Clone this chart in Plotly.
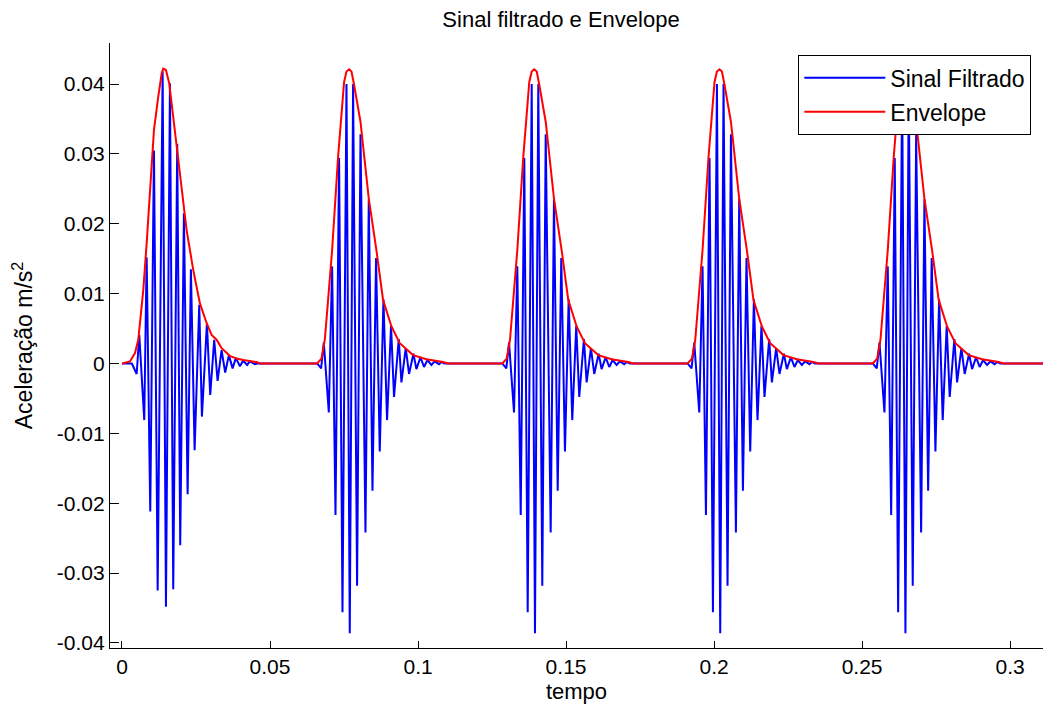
import plotly.graph_objects as go

# Start time of each burst (s)
burst_onsets = [0.00334, 0.06591, 0.12847, 0.19104, 0.25360]
t_end = 0.3125

# First burst: turning points of the filtered signal, offset from onset (ms)
sig1_ms = [0, 1.62, 2.50, 4.18, 4.99, 6.21, 7.46, 8.71, 10.39, 11.51, 12.86,
           13.97, 15.32, 16.33, 17.58, 18.83, 19.94, 21.19, 22.75, 23.66,
           25.34, 26.46, 27.81, 28.95, 30.30, 31.52, 32.77, 34.02, 35.13,
           36.48, 37.59, 38.94, 39.85, 41.54, 42.5]
sig1_val = [0, -0.0015, 0.0041, -0.0081, 0.0152, -0.0212, 0.0305, -0.0325,
            0.0418, -0.0348, 0.0401, -0.0323, 0.0314, -0.0260, 0.0215,
            -0.0187, 0.0135, -0.0124, 0.0084, -0.0076, 0.0057, -0.0045,
            0.0034, -0.0025, 0.0019, -0.0013, 0.0012, -0.0007, 0.0008,
            -0.0004, 0.0004, -0.0002, 0.0003, -0.0001, 0]

# Bursts 2-5: turning points of the filtered signal (ms from onset)
sig_ms = [0, 1.35, 2.26, 3.95, 5.06, 6.21, 7.42, 8.57, 9.92, 11.03, 12.15,
          13.50, 14.65, 16.33, 17.45, 18.70, 19.91, 21.16, 22.41, 23.62,
          24.97, 25.98, 27.57, 28.48, 29.93, 31.05, 32.53, 33.54, 34.89,
          36.11, 37.26, 38.61, 39.72, 41.17, 41.98, 43.09]
sig_val = [0, -0.0007, 0.0030, -0.0070, 0.0139, -0.0217, 0.0294, -0.0356,
           0.0400, -0.0386, 0.0400, -0.0318, 0.0328, -0.0242, 0.0235,
           -0.0182, 0.0151, -0.0126, 0.0092, -0.0081, 0.0054, -0.0048,
           0.0035, -0.0027, 0.0022, -0.0015, 0.0014, -0.0008, 0.0009,
           -0.0005, 0.0005, -0.0002, 0.0003, -0.0001, 0.0002, 0]

# Envelope of the first burst
env1_ms = [-3.10, -0.64, 1.05, 2.16, 3.85, 4.99, 6.68, 7.46, 8.91, 10.06,
           10.59, 11.51, 12.62, 15.12, 17.58, 18.49, 20.72, 22.98, 25.24,
           26.93, 28.61, 30.30, 33.09, 35.36, 37.59, 42.11, 43.22]
env1_val = [0, 0.0003, 0.0015, 0.0034, 0.0105, 0.0172, 0.0287, 0.0334,
            0.0382, 0.0415, 0.0422, 0.0420, 0.0401, 0.0315, 0.0224, 0.0191,
            0.0134, 0.0086, 0.0058, 0.0041, 0.0034, 0.0022, 0.0011, 0.0007,
            0.0005, 0.0002, 0]

# Envelope of bursts 2-5
env_ms = [0, 1.48, 2.60, 3.71, 5.06, 7.09, 9.11, 9.92, 10.80, 11.61, 12.39,
          14.65, 17.45, 20.04, 22.27, 25.11, 27.91, 32.40, 36.91, 42.52, 44.21]
env_val = [0, 0.0007, 0.0034, 0.0091, 0.0162, 0.0296, 0.0403, 0.0418,
           0.0421, 0.0418, 0.0401, 0.0346, 0.0236, 0.0162, 0.0091, 0.0053,
           0.0029, 0.0012, 0.0006, 0.0002, 0]

x_ticks = [0, 0.05, 0.1, 0.15, 0.2, 0.25, 0.3]
x_tick_text = ["0", "0.05", "0.1", "0.15", "0.2", "0.25", "0.3"]
y_ticks = [-0.04, -0.03, -0.02, -0.01, 0, 0.01, 0.02, 0.03, 0.04]
y_tick_text = ["-0.04", "-0.03", "-0.02", "-0.01", "0", "0.01", "0.02", "0.03", "0.04"]


def build(first_ms, first_val, rest_ms, rest_val):
    t, v = [0.0], [0.0]
    for i, t0 in enumerate(burst_onsets):
        ms, val = (first_ms, first_val) if i == 0 else (rest_ms, rest_val)
        for m, y in zip(ms, val):
            t.append(t0 + m / 1000.0)
            v.append(y)
    t.append(t_end)
    v.append(0.0)
    return t, v


sig_t, sig_y = build(sig1_ms, sig1_val, sig_ms, sig_val)
env_t, env_y = build(env1_ms, env1_val, env_ms, env_val)

FONT = "Liberation Sans, Arial, sans-serif"
TICK_SIZE = 21
LABEL_SIZE = 22
LEGEND_SIZE = 23

fig = go.Figure()
fig.add_trace(go.Scatter(x=sig_t, y=sig_y, mode="lines", name="Sinal Filtrado",
                         legendgroup="a",
                         line=dict(color="#0000ff", width=2)))
fig.add_trace(go.Scatter(x=env_t, y=env_y, mode="lines", name="Envelope",
                         legendgroup="b",
                         line=dict(color="#ff0000", width=2)))

fig.update_layout(
    width=1043, height=713,
    margin=dict(l=110, r=0, t=43, b=65),
    paper_bgcolor="white", plot_bgcolor="white",
    font=dict(family=FONT, size=LABEL_SIZE, color="black"),
    title=dict(text="Sinal filtrado e Envelope", x=561 / 1043, xanchor="center",
               y=1 - 19 / 713, yanchor="middle",
               font=dict(family=FONT, size=22, color="black")),
    showlegend=True,
    legend=dict(x=(798 - 110) / 933, y=(648 - 55) / 605, xanchor="left", yanchor="top",
                bgcolor="white", bordercolor="black", borderwidth=1.3,
                font=dict(family=FONT, size=LEGEND_SIZE, color="black"),
                itemwidth=81, tracegroupgap=1),
)

fig.update_xaxes(
    range=[-0.00405, 0.3111], showgrid=False, zeroline=False,
    showline=True, linecolor="black", linewidth=1.3, mirror=False,
    ticks="inside", ticklen=7, tickwidth=1.3, tickcolor="black",
    tickvals=x_ticks, ticktext=x_tick_text,
    tickfont=dict(family=FONT, size=TICK_SIZE, color="black"),
    title=dict(text="tempo", font=dict(family=FONT, size=LABEL_SIZE, color="black"), standoff=6),
)
fig.update_yaxes(
    range=[-0.04072, 0.04587], showgrid=False, zeroline=False,
    showline=True, linecolor="black", linewidth=1.3, mirror=False,
    ticks="inside", ticklen=9, tickwidth=1.3, tickcolor="black",
    tickvals=y_ticks, ticktext=y_tick_text,
    tickfont=dict(family=FONT, size=TICK_SIZE, color="black"),
    title=dict(text="Aceleração m/s<sup>2</sup>", font=dict(family=FONT, size=23, color="black"),
               standoff=17),
)

fig.write_html("out.html")
